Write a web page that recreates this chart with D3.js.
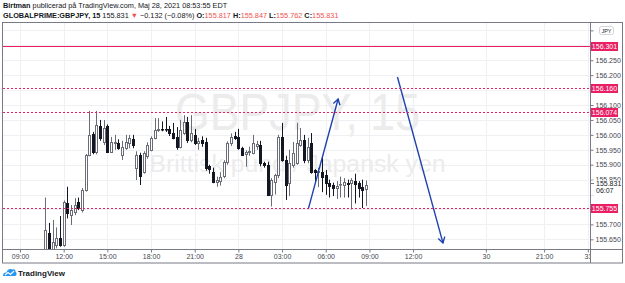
<!DOCTYPE html>
<html>
<head>
<meta charset="utf-8">
<script src="https://cdn.jsdelivr.net/npm/d3@7"></script>
<style>
  body { margin: 0; background: #fff; }
  svg { display: block; font-family: "Liberation Sans", Arial, sans-serif; }
</style>
</head>
<body>
<div id="chart"></div>
<script>
// 15 min candles, bar index 0 = 09:00 on the 27th
const firstBar = 7;
const opens = [
  155.610, 155.670, 155.615, 155.630, 155.655, 155.632, 155.772, 155.731, 155.742, 155.775,
  155.748, 155.815, 155.933, 156.003, 155.943, 156.030, 155.976, 156.030, 155.943, 155.973,
  155.973, 155.930, 155.955, 155.973, 155.986, 155.890, 155.933, 155.876, 155.930, 155.950,
  155.989, 156.018, 156.020, 156.019, 156.018, 156.006, 155.993, 155.959, 156.006, 156.043,
  155.983, 156.000, 155.972, 155.983, 155.976, 155.895, 155.876, 155.843, 155.845, 155.860,
  155.908, 155.973, 155.996, 155.993, 155.956, 155.935, 155.943, 155.939, 155.962, 155.966,
  155.906, 155.899, 155.799, 155.842, 155.865, 155.993, 155.916, 155.839, 155.899, 155.906,
  155.966, 155.983, 155.916, 155.973, 155.882, 155.876, 155.876, 155.865, 155.839, 155.832,
  155.822, 155.834, 155.832, 155.838, 155.839, 155.845, 155.838, 155.826, 155.817
];
const highs = [
  155.790, 155.705, 155.715, 155.690, 155.728, 155.780, 155.826, 155.765, 155.788, 155.790,
  155.822, 155.936, 156.080, 156.010, 156.080, 156.050, 156.050, 156.035, 155.993, 156.000,
  155.985, 155.980, 156.000, 156.000, 156.000, 155.945, 155.940, 155.945, 155.975, 155.995,
  156.056, 156.056, 156.045, 156.060, 156.030, 156.040, 156.026, 156.050, 156.066, 156.060,
  156.066, 156.020, 155.990, 155.995, 155.990, 155.900, 155.890, 155.860, 155.875, 155.915,
  155.978, 156.005, 156.010, 156.020, 155.960, 155.948, 155.960, 156.000, 155.980, 155.980,
  155.910, 155.910, 155.855, 155.870, 156.000, 156.040, 155.930, 155.950, 155.976, 156.040,
  156.023, 156.000, 155.990, 156.006, 155.885, 155.890, 155.926, 155.882, 155.850, 155.840,
  155.845, 155.860, 155.855, 155.850, 155.855, 155.870, 155.845, 155.850, 155.847
];
const lows = [
  155.600, 155.600, 155.605, 155.620, 155.625, 155.625, 155.720, 155.698, 155.731, 155.748,
  155.740, 155.810, 155.928, 155.935, 155.935, 155.980, 155.966, 155.940, 155.940, 155.950,
  155.950, 155.916, 155.950, 155.955, 155.955, 155.849, 155.832, 155.870, 155.920, 155.945,
  155.985, 156.010, 156.012, 156.010, 155.996, 155.985, 155.950, 155.955, 156.000, 155.973,
  155.975, 155.966, 155.950, 155.960, 155.880, 155.870, 155.838, 155.826, 155.830, 155.855,
  155.900, 155.963, 155.983, 155.950, 155.930, 155.893, 155.930, 155.935, 155.950, 155.895,
  155.890, 155.795, 155.760, 155.800, 155.855, 155.910, 155.782, 155.795, 155.890, 155.900,
  155.960, 155.905, 155.905, 155.870, 155.840, 155.825, 155.808, 155.799, 155.790, 155.795,
  155.785, 155.790, 155.790, 155.790, 155.750, 155.770, 155.790, 155.755, 155.762
];
const closes = [
  155.681, 155.610, 155.640, 155.655, 155.632, 155.775, 155.740, 155.748, 155.765, 155.755,
  155.815, 155.933, 155.999, 155.943, 156.033, 155.989, 156.023, 155.943, 155.976, 155.977,
  155.956, 155.958, 155.976, 155.989, 155.966, 155.933, 155.862, 155.939, 155.966, 155.989,
  156.016, 156.020, 156.019, 156.018, 156.006, 155.989, 155.959, 156.016, 156.043, 155.983,
  156.006, 155.973, 155.978, 155.973, 155.889, 155.885, 155.842, 155.850, 155.860, 155.908,
  155.973, 155.993, 155.989, 155.956, 155.933, 155.943, 155.946, 155.973, 155.968, 155.906,
  155.899, 155.799, 155.849, 155.865, 155.993, 155.916, 155.832, 155.906, 155.939, 155.973,
  155.983, 155.916, 155.960, 155.876, 155.876, 155.879, 155.859, 155.839, 155.830, 155.822,
  155.829, 155.835, 155.842, 155.836, 155.849, 155.835, 155.822, 155.815, 155.831
];

const timeTicks = [0, 12, 24, 36, 48, 60, 72, 84, 96, 108, 128, 144, 156];
const timeLabels = ["09:00", "12:00", "15:00", "18:00", "21:00", "28", "03:00", "06:00", "09:00", "12:00", "30", "21:00", "31"];
const priceTicks = [155.65, 155.70, 155.75, 155.80, 155.85, 155.90, 155.95, 156.00, 156.05, 156.10, 156.15, 156.20, 156.25, 156.30, 156.35];
// tick labels hidden behind the level labels and the last price box
const hiddenTicks = [155.75, 155.80, 156.15, 156.30];

// horizontal levels drawn on the chart
const levels = [156.301, 156.160, 156.074, 155.755];
const levelSolid = [true, false, false, false];

// arrows: [bar index, price]
const arrowFrom = [[79.2, 155.751], [103.7, 156.194]];
const arrowTo = [[87.4, 156.120], [116.2, 155.638]];

const lastPrice = 155.831;
const lastCountdown = "06:07";

const W = 625, H = 283;
const pane = { left: 3, right: 590, top: 23, bottom: 249 };
const red = "#e91e63";
const textCol = "#434651";
const fmt = d3.format(".3f");

const svg = d3.select("#chart").append("svg")
  .attr("width", W)
  .attr("height", H);

const defs = svg.append("defs");
defs.append("clipPath").attr("id", "paneClip")
  .append("rect")
  .attr("x", pane.left).attr("y", pane.top)
  .attr("width", pane.right - pane.left).attr("height", pane.bottom - pane.top);
// local coords of the time axis group
defs.append("clipPath").attr("id", "timeClip")
  .append("rect")
  .attr("x", 0).attr("y", 0)
  .attr("width", pane.right).attr("height", 14);
// top price label sits under the currency button
defs.append("clipPath").attr("id", "topClip")
  .append("rect")
  .attr("x", -5).attr("y", -10)
  .attr("width", 8.5).attr("height", 20);

const x = d3.scaleLinear().domain([-4.67, 156.6]).range([pane.left, pane.right]);
const y = d3.scaleLinear().domain([155.6176, 156.3747]).range([pane.bottom, pane.top]);

// header
const head = svg.append("g").style("font-size", "7.3px").attr("fill", "#131722");
const h1 = head.append("text").attr("x", 3).attr("y", 8);
h1.append("tspan").style("font-weight", "bold").text("Birtman");
h1.append("tspan").text(" publicerad på TradingView.com, Maj 28, 2021 08:53:55 EDT");

const h2 = head.append("text").attr("x", 3).attr("y", 18);
h2.append("tspan").style("font-weight", "bold").text("GLOBALPRIME:GBPJPY, 15");
h2.append("tspan").text("  155.831 ");
h2.append("tspan").attr("fill", "#ef5350").text("▼");
h2.append("tspan").text(" −0.132 (−0.08%) ");
[["O:", "155.817"], [" H:", "155.847"], [" L:", "155.762"], [" C:", "155.831"]].forEach(p => {
  h2.append("tspan").style("font-weight", "bold").text(p[0]);
  h2.append("tspan").attr("fill", "#ef5350").text(p[1]);
});

// grid
const grid = svg.append("g").attr("clip-path", "url(#paneClip)");
grid.selectAll(".vg").data(timeTicks).enter().append("line")
  .attr("class", "vg")
  .attr("x1", d => Math.round(x(d)) + 0.5).attr("x2", d => Math.round(x(d)) + 0.5)
  .attr("y1", pane.top).attr("y2", pane.bottom)
  .style("stroke", "#eef0f4");
grid.selectAll(".hg").data(priceTicks).enter().append("line")
  .attr("class", "hg")
  .attr("x1", pane.left).attr("x2", pane.right)
  .attr("y1", d => Math.round(y(d)) + 0.5).attr("y2", d => Math.round(y(d)) + 0.5)
  .style("stroke", "#eef0f4");

// watermark
const cx = (pane.left + pane.right) / 2 + 1;
svg.append("text")
  .attr("x", cx).attr("y", 130)
  .attr("text-anchor", "middle")
  .attr("textLength", 245).attr("lengthAdjust", "spacingAndGlyphs")
  .style("font-size", "51px")
  .attr("fill", "#ececec")
  .text("GBPJPY, 15");
svg.append("text")
  .attr("x", cx).attr("y", 172)
  .attr("text-anchor", "middle")
  .attr("textLength", 296).attr("lengthAdjust", "spacingAndGlyphs")
  .style("font-size", "23px")
  .attr("fill", "#ececec")
  .text("Brittisk pund / Japansk yen");

// candles
const candles = opens.map((o, i) => ({ i: firstBar + i, o, h: highs[i], l: lows[i], c: closes[i] }));
const cg = svg.append("g").attr("clip-path", "url(#paneClip)");
const bar = cg.selectAll("g").data(candles).enter().append("g");
bar.append("line")
  .attr("x1", d => Math.round(x(d.i)) + 0.5).attr("x2", d => Math.round(x(d.i)) + 0.5)
  .attr("y1", d => y(d.h)).attr("y2", d => y(d.l))
  .style("stroke", d => d.c >= d.o ? "#6a6d78" : "#131722");
bar.append("rect")
  .attr("x", d => Math.round(x(d.i)) - 0.5)
  .attr("y", d => Math.round(y(Math.max(d.o, d.c))) + 0.5)
  .attr("width", 2)
  .attr("height", d => Math.max(0.5, Math.round(Math.abs(y(d.o) - y(d.c)))))
  .style("fill", d => d.c >= d.o ? "#fff" : "#131722")
  .style("stroke", d => d.c >= d.o ? "#6a6d78" : "#131722")
  .attr("stroke-width", 1);

// arrows
const blue = "#1e42ad";
const ag = svg.append("g").attr("clip-path", "url(#paneClip)");
arrowFrom.forEach((f, k) => {
  const x1 = x(f[0]), y1 = y(f[1]), x2 = x(arrowTo[k][0]), y2 = y(arrowTo[k][1]);
  ag.append("line")
    .attr("x1", x1).attr("y1", y1).attr("x2", x2).attr("y2", y2)
    .style("stroke", blue).attr("stroke-width", 1.4);
  const ang = Math.atan2(y2 - y1, x2 - x1);
  const len = 6.5, spread = 0.55;
  const p = a => [x2 - len * Math.cos(a), y2 - len * Math.sin(a)];
  const a1 = p(ang - spread), a2 = p(ang + spread);
  ag.append("path")
    .attr("d", `M${a1[0]},${a1[1]}L${x2},${y2}L${a2[0]},${a2[1]}`)
    .attr("fill", "none").style("stroke", blue).attr("stroke-width", 1.4);
});

// price axis
const yAxis = svg.append("g")
  .attr("transform", `translate(${pane.right + 0.5},0)`)
  .call(d3.axisRight(y).tickValues(priceTicks).tickSize(3).tickPadding(2).tickFormat(fmt));
yAxis.select(".domain").remove();
yAxis.selectAll("line").style("stroke", "#787b86");
yAxis.selectAll("text").attr("fill", textCol).style("font-size", "7px").style("font-family", "Liberation Sans, Arial, sans-serif");
yAxis.selectAll(".tick").filter(d => hiddenTicks.some(h => Math.abs(h - d) < 1e-6)).select("text").remove();
yAxis.selectAll(".tick").filter(d => Math.abs(d - 156.35) < 1e-6).select("text").attr("clip-path", "url(#topClip)");

// time axis
const xAxis = svg.append("g")
  .attr("transform", `translate(0,${pane.bottom + 0.5})`)
  .attr("clip-path", "url(#timeClip)");
xAxis.call(d3.axisBottom(x).tickValues(timeTicks).tickSize(3).tickPadding(1.5).tickFormat((d, i) => timeLabels[i]));
xAxis.select(".domain").remove();
xAxis.selectAll("line").style("stroke", "#787b86");
xAxis.selectAll("text").attr("fill", textCol).style("font-size", "7px").style("font-family", "Liberation Sans, Arial, sans-serif");

// separators and frame
svg.append("line").attr("x1", pane.left).attr("x2", 622).attr("y1", pane.bottom + 0.5).attr("y2", pane.bottom + 0.5).style("stroke", "#787b86");
svg.append("line").attr("x1", pane.right + 0.5).attr("x2", pane.right + 0.5).attr("y1", pane.top).attr("y2", 263).style("stroke", "#787b86");
svg.append("rect").attr("x", 2.5).attr("y", 22.5).attr("width", 620).attr("height", 240.5)
  .attr("fill", "none").style("stroke", "#787b86");

// last price label
const lbl = svg.append("g");
const ly = Math.round(y(lastPrice));
lbl.append("rect").attr("x", 591).attr("y", ly - 4.5).attr("width", 30).attr("height", 15).attr("fill", "#fff");
lbl.append("line").attr("x1", 591).attr("x2", 594).attr("y1", ly - 1.5).attr("y2", ly - 1.5).style("stroke", "#787b86");
lbl.append("text").attr("x", 596).attr("y", ly - 1).attr("dy", "0.35em").attr("fill", "#131722").style("font-size", "7px")
  .text(fmt(lastPrice));
lbl.append("text").attr("x", 596).attr("y", ly + 6).attr("dy", "0.35em").attr("fill", "#131722").style("font-size", "7px")
  .text(lastCountdown);

// currency button
lbl.append("rect").attr("x", 599.5).attr("y", 26.5).attr("width", 14).attr("height", 8).attr("rx", 2)
  .attr("fill", "#fff").style("stroke", "#d1d4dc");
lbl.append("text").attr("x", 606.5).attr("y", 30.7).attr("dy", "0.35em").attr("text-anchor", "middle")
  .attr("fill", "#131722").style("font-size", "5.5px").text("JPY");

// levels, on top of everything in the pane (snapped to even pixel rows)
const rowOf = p => Math.round(y(p) / 2) * 2;
const lv = svg.append("g").attr("clip-path", "url(#paneClip)");
levels.forEach((p, i) => {
  const yy = rowOf(p) + 0.5;
  lv.append("path")
    .attr("d", `M${pane.left},${yy}H${pane.right}`)
    .attr("fill", "none")
    .attr("stroke", red)
    .attr("stroke-width", 1)
    .attr("stroke-dasharray", levelSolid[i] ? null : "2,2");
});

// level labels on price axis
const ll = svg.append("g");
levels.forEach(p => {
  const yy = rowOf(p);
  ll.append("rect").attr("x", 591).attr("y", yy - 4).attr("width", 27).attr("height", 9).attr("fill", red);
  ll.append("text").attr("x", 604.5).attr("y", yy + 0.5).attr("dy", "0.35em")
    .attr("text-anchor", "middle").attr("fill", "#fff").style("font-size", "7px")
    .text(fmt(p));
});

// TradingView logo
const logo = svg.append("g").attr("transform", "translate(3,267)");
logo.append("path")
  .attr("d", "M0,9 C0,6 2,5 3.5,5.5 C4,2.5 7,1 9.5,2.5 C11,1.5 13,3 12.5,5 C14,5.5 14,9 12,9 Z")
  .attr("fill", "#2196f3");
logo.append("path")
  .attr("d", "M2,8 L5,5.5 L7.5,7.5 L11,4")
  .attr("fill", "none").style("stroke", "#fff").attr("stroke-width", 1.1);
svg.append("text").attr("x", 18).attr("y", 276).attr("fill", "#131722")
  .style("font-size", "8px").style("font-weight", "bold").style("font-family", "Liberation Sans, Arial, sans-serif")
  .text("TradingView");
</script>
</body>
</html>
